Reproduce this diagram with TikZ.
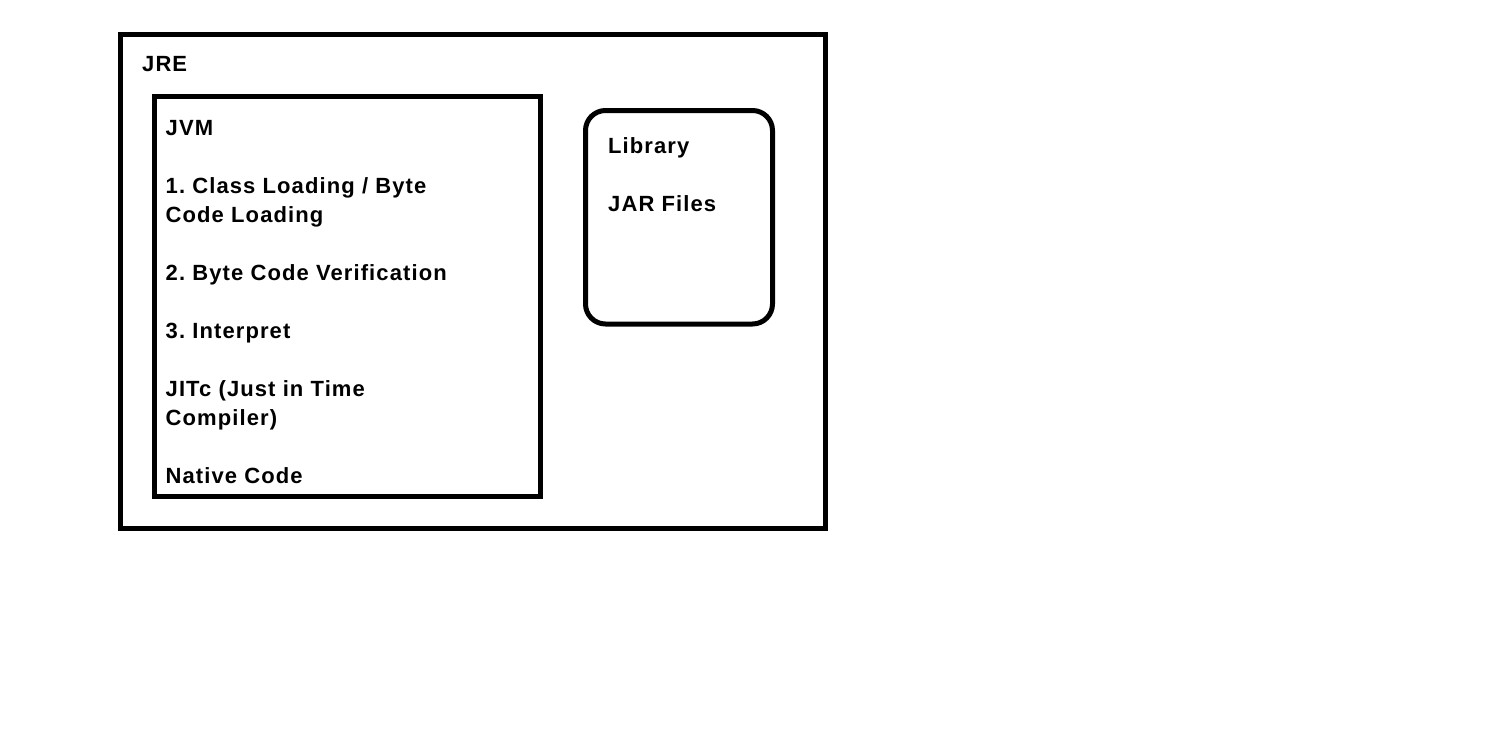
\documentclass[tikz,border=0pt]{standalone}
\usepackage{fontspec}
\setmainfont{Liberation Sans}[LetterSpace=5]
\frenchspacing
\tikzset{
  box/.style={line width=5pt},
  txt/.style={anchor=base west, inner sep=0pt, font=\fontsize{22}{29}\selectfont\bfseries}
}
\begin{document}
\begin{tikzpicture}[x=1pt,y=-1pt]
  \useasboundingbox (0,0) rectangle (1508,742);
  \draw[box] (120.5,34.5) rectangle (825.2,528.5);
  \draw[box] (154.5,96.5) rectangle (540.2,496.8);
  \draw[box, rounded corners=20pt] (585.5,110.5) rectangle (772.5,324);
  \path
    (142,71.7) node[txt] (jre){JRE}
    (165.5,135.7) node[txt] (jvm){JVM}
    (165.5,193.7) node[txt] (load1){1. Class Loading / Byte}
    (165.5,222.7) node[txt] (load2){Code Loading}
    (165.5,280.7) node[txt] (verify){2. Byte Code Verification}
    (165.5,338.7) node[txt] (interp){3. Interpret}
    (165.5,396.7) node[txt] (jit1){JITc (Just in Time}
    (165.5,425.7) node[txt] (jit2){Compiler)}
    (165.5,483.7) node[txt] (native){Native Code}
    (608,153.3) node[txt] (lib){Library}
    (608,211.3) node[txt] (jar){JAR Files};
\end{tikzpicture}
\end{document}
